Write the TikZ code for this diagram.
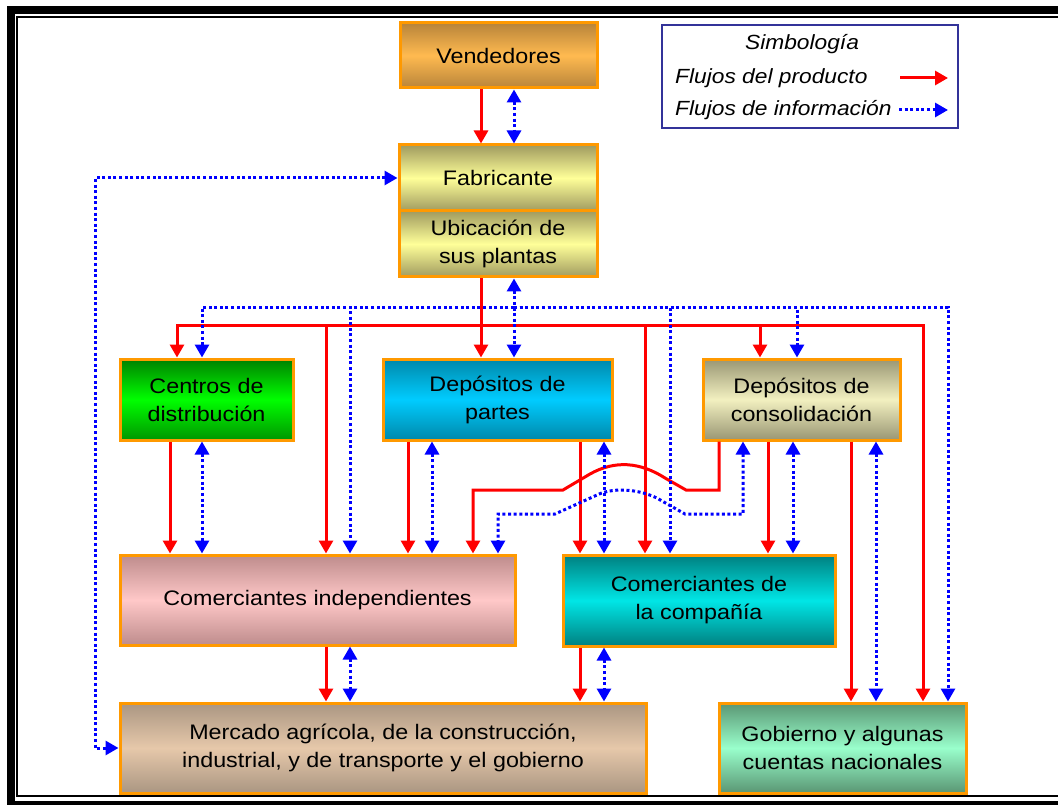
\documentclass[tikz,border=0pt]{standalone}
\usepackage{fontspec}
\setmainfont{Liberation Sans}[FakeStretch=1.11]
\usetikzlibrary{arrows.meta}

\definecolor{boxline}{RGB}{255,153,0}
\definecolor{legline}{RGB}{51,51,153}
\definecolor{prodred}{RGB}{255,0,0}
\definecolor{infoblue}{RGB}{0,0,255}
\definecolor{venE}{RGB}{184,132,58}   \definecolor{venM}{RGB}{255,186,80}
\definecolor{fabE}{RGB}{160,155,95}   \definecolor{fabM}{RGB}{255,255,153}
\definecolor{cenT}{RGB}{0,128,0}      \definecolor{cenM}{RGB}{0,255,0}
\definecolor{cenB}{RGB}{0,150,0}
\definecolor{dpaE}{RGB}{0,136,170}    \definecolor{dpaM}{RGB}{0,204,255}
\definecolor{dcoE}{RGB}{153,150,115}  \definecolor{dcoM}{RGB}{242,240,192}
\definecolor{cinE}{RGB}{190,140,140}  \definecolor{cinM}{RGB}{255,200,200}
\definecolor{ccoE}{RGB}{0,128,128}    \definecolor{ccoM}{RGB}{0,230,230}
\definecolor{merE}{RGB}{170,150,130}  \definecolor{merM}{RGB}{230,200,170}
\definecolor{gobE}{RGB}{90,150,115}   \definecolor{gobM}{RGB}{153,255,204}

\tikzset{
  box/.style={draw=boxline, line width=3pt, inner sep=2pt, align=center,
    font=\fontsize{21}{28}\selectfont, text=black},
  shadebox/.style 2 args={box, top color=#1, bottom color=#1, middle color=#2},
  prod/.style={draw=prodred, line width=3pt, -{Triangle[length=13pt,width=14pt]}},
  info/.style={draw=infoblue, line width=3pt, dash pattern=on 3pt off 2.6pt,
    -{Triangle[length=13pt,width=14pt]}},
  infoboth/.style={info, {Triangle[length=13pt,width=14pt]}-{Triangle[length=13pt,width=14pt]}},
  legtext/.style={font=\fontsize{20.5}{24}\selectfont\itshape, inner sep=0pt}
}

\begin{document}
\begin{tikzpicture}[x=1pt, y=-1pt]
\useasboundingbox (0,0) rectangle (1058,805);
\fill[white] (0,0) rectangle (1058,805);

% double frame, running off the right edge
\draw[line width=8pt] (1058,10) -- (7,10) -- (11,10) -- (11,805);
\draw[line width=8pt] (7,805) -- (1058,805);
\draw[line width=1.7pt] (1058,16.7) -- (16.8,16.7) -- (16.8,796) -- (1058,796);

% boxes
\node[shadebox={venE}{venM}, minimum width=197pt, minimum height=65pt] (ven) at (498.5,55.5) {Vendedores};
\node[shadebox={fabE}{fabM}, minimum width=198pt, minimum height=66pt] (fab) at (498,178) {Fabricante};
\node[shadebox={fabE}{fabM}, minimum width=198pt, minimum height=66pt] (ubi) at (498,244) {Ubicación de\\sus plantas};
\node[box, top color=cenT, bottom color=cenB, middle color=cenM,
  minimum width=173pt, minimum height=81pt] (cen) at (206.5,399.5) {Centros de\\distribución};
\node[shadebox={dpaE}{dpaM}, minimum width=229pt, minimum height=81pt] (dpa) at (497.5,399.5) {Depósitos de\\partes};
\node[shadebox={dcoE}{dcoM}, minimum width=197pt, minimum height=81pt] (dco) at (801.5,399.5) {Depósitos de\\consolidación};
\node[shadebox={cinE}{cinM}, minimum width=395pt, minimum height=90pt] (cin) at (317.5,600) {Comerciantes independientes};
\node[shadebox={ccoE}{ccoM}, minimum width=272pt, minimum height=91pt] (cco) at (699,600.5) {Comerciantes de\\la compañía};
\node[shadebox={merE}{merM}, minimum width=526pt, minimum height=90pt] (mer) at (383,748)
  {Mercado agrícola, de la construcción,\\industrial, y de transporte y el gobierno};
\node[shadebox={gobE}{gobM}, minimum width=247pt, minimum height=90pt] (gob) at (842.5,748) {Gobierno y algunas\\cuentas nacionales};

% legend
\node[draw=legline, line width=2.5pt, minimum width=296pt, minimum height=103pt] (leg) at (810,76.5) {};
\node[legtext] (legt) at (802,44) {Simbología};
\node[legtext, anchor=west] (legp) at (675,78) {Flujos del producto};
\node[legtext, anchor=west] (legi) at (675,110) {Flujos de información};
\coordinate (lpa) at (900,78);  \coordinate (lpb) at (948,78);
\coordinate (lia) at (899,110); \coordinate (lib) at (948,110);
\draw[prod] (lpa) -- (lpb);
\draw[info] (lia) -- (lib);

% column positions
\foreach \c in {95,170,177,202,326,350,408,432,473,481,498,514,580,604,645,670,719,743,760,768,793,797,851,876,923,948}
  \coordinate (x\c) at (\c,0);
\coordinate (rb) at (481,325);
\coordinate (bb) at (514,307);

% product flows
\draw[prod] (ven.south -| x481) -- (fab.north -| x481);
\draw[prod] (ubi.south -| x481) -- (dpa.north -| x481);
\draw[prod] (rb) -| (cen.north -| x177);
\draw[prod] (rb) -| (cin.north -| x326);
\draw[prod] (rb) -| (cco.north -| x645);
\draw[prod] (rb) -| (dco.north -| x760);
\draw[prod] (rb) -| (gob.north -| x923);
\draw[prod] (cen.south -| x170) -- (cin.north -| x170);
\draw[prod] (dpa.south -| x408) -- (cin.north -| x408);
\draw[prod] (dpa.south -| x580) -- (cco.north -| x580);
\draw[prod] (dco.south -| x719) -- (719,490) -- (686,490) -- (665,478)
  .. controls (640,462) and (615,460) .. (590,474) -- (563,490) -- (473,490)
  -- (cin.north -| x473);
\draw[prod] (dco.south -| x768) -- (cco.north -| x768);
\draw[prod] (dco.south -| x851) -- (gob.north -| x851);
\draw[prod] (cin.south -| x326) -- (mer.north -| x326);
\draw[prod] (cco.south -| x580) -- (mer.north -| x580);

% information flows
\draw[infoboth] (ven.south -| x514) -- (fab.north -| x514);
\draw[infoboth] (ubi.south -| x514) -- (dpa.north -| x514);
\draw[info] (bb) -| (cen.north -| x202);
\draw[info] (bb) -| (cin.north -| x350);
\draw[info] (bb) -| (cco.north -| x670);
\draw[info] (bb) -| (dco.north -| x797);
\draw[info] (bb) -| (gob.north -| x948);
\draw[infoboth] (cen.south -| x202) -- (cin.north -| x202);
\draw[infoboth] (dpa.south -| x432) -- (cin.north -| x432);
\draw[infoboth] (dpa.south -| x604) -- (cco.north -| x604);
\draw[infoboth] (dco.south -| x743) -- (743,514) -- (685,514) -- (662,501)
  .. controls (645,490) and (615,486) .. (597,495) -- (555,514) -- (498,514)
  -- (cin.north -| x498);
\draw[infoboth] (dco.south -| x793) -- (cco.north -| x793);
\draw[infoboth] (dco.south -| x876) -- (gob.north -| x876);
\draw[infoboth] (cin.south -| x350) -- (mer.north -| x350);
\draw[infoboth] (cco.south -| x604) -- (mer.north -| x604);
\draw[infoboth] (fab.west) -| (x95 |- mer.west) -- (mer.west);
\end{tikzpicture}
\end{document}
